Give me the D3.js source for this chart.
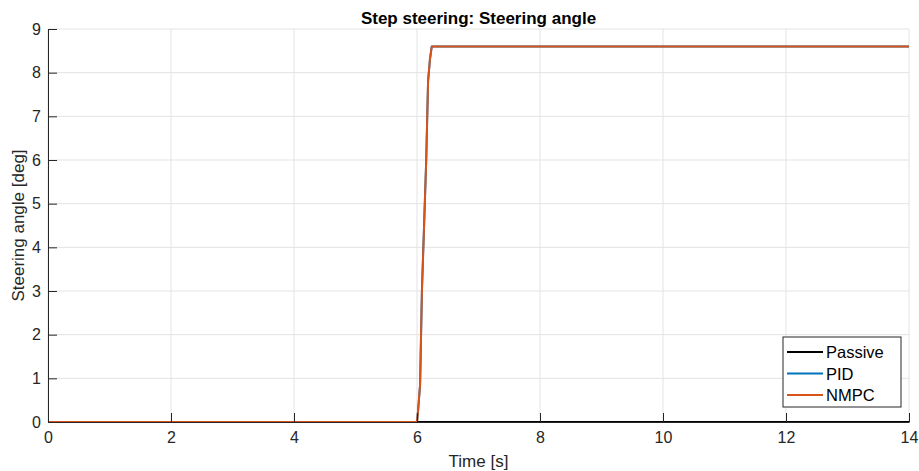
<!DOCTYPE html>
<html>
<head>
<meta charset="utf-8">
<script src="https://cdn.jsdelivr.net/npm/d3@7"></script>
<style>
  html, body { margin: 0; padding: 0; background: #fff; }
  svg { display: block; font-family: "Liberation Sans", Arial, sans-serif; }
</style>
</head>
<body>
<svg id="chart" width="919" height="471"></svg>
<script>
// Time samples [s] and steering angle [deg] for each controller
const timePassive = [0, 14];
const anglePassive = [0, 0];

const timePID = [0, 6.0, 6.02, 6.05, 6.08, 6.15, 6.18, 6.21, 6.24, 14];
const anglePID = [0, 0, 0.3, 0.85, 3.0, 6.0, 7.8, 8.3, 8.6, 8.6];

const timeNMPC = [0, 6.0, 6.02, 6.05, 6.08, 6.15, 6.18, 6.21, 6.24, 14];
const angleNMPC = [0, 0, 0.3, 0.85, 3.0, 6.0, 7.8, 8.3, 8.6, 8.6];

const xTicks = [0, 2, 4, 6, 8, 10, 12, 14];
const yTicks = [0, 1, 2, 3, 4, 5, 6, 7, 8, 9];

const seriesNames = ["Passive", "PID", "NMPC"];
const seriesColors = ["#000000", "#0072BD", "#D95319"];

const margin = { left: 48, right: 10, top: 29, bottom: 49 };
const W = 919, H = 471;

const svg = d3.select("#chart");
const x = d3.scaleLinear().domain([0, 14]).range([margin.left, W - margin.right]);
const y = d3.scaleLinear().domain([0, 9]).range([H - margin.bottom, margin.top]);

const axisColor = "#262626";
const gridColor = "#e3e3e3";

// grid
svg.append("g").selectAll("line").data(xTicks).join("line")
  .attr("x1", d => x(d)).attr("x2", d => x(d))
  .attr("y1", y(0)).attr("y2", y(9))
  .attr("stroke", gridColor).attr("stroke-width", 1);
svg.append("g").selectAll("line").data(yTicks).join("line")
  .attr("x1", x(0)).attr("x2", x(14))
  .attr("y1", d => y(d)).attr("y2", d => y(d))
  .attr("stroke", gridColor).attr("stroke-width", 1);

// data lines
const series = [
  { t: timePassive, v: anglePassive },
  { t: timePID, v: anglePID },
  { t: timeNMPC, v: angleNMPC }
];
const line = d3.line().x(d => x(d[0])).y(d => y(d[1]));
series.forEach((s, i) => {
  svg.append("path")
    .datum(s.t.map((t, k) => [t, s.v[k]]))
    .attr("d", line)
    .attr("fill", "none")
    .attr("stroke", seriesColors[i])
    .attr("stroke-width", 2)
    .attr("stroke-linejoin", "round");
});

// axes (ticks pointing inward)
const xAxis = svg.append("g")
  .attr("transform", `translate(0,${y(0)})`)
  .call(d3.axisBottom(x).tickValues(xTicks).tickFormat(d3.format("d")).tickSizeInner(-9).tickSizeOuter(0).tickPadding(10));
const yAxis = svg.append("g")
  .attr("transform", `translate(${x(0)},0)`)
  .call(d3.axisLeft(y).tickValues(yTicks).tickFormat(d3.format("d")).tickSizeInner(-9).tickSizeOuter(0).tickPadding(7));

[xAxis, yAxis].forEach(g => {
  g.select(".domain").attr("stroke", axisColor).attr("stroke-width", 1);
  g.selectAll(".tick line").attr("stroke", axisColor);
  g.selectAll(".tick text").attr("fill", axisColor).attr("font-size", 16)
    .attr("font-family", "Liberation Sans, Arial, sans-serif");
});

// title and axis labels
svg.append("text")
  .attr("x", (x(0) + x(14)) / 2).attr("y", 24)
  .attr("text-anchor", "middle")
  .attr("font-size", 17).attr("font-weight", "bold").attr("fill", "#000")
  .text("Step steering: Steering angle");

svg.append("text")
  .attr("x", (x(0) + x(14)) / 2).attr("y", 467)
  .attr("text-anchor", "middle")
  .attr("font-size", 17).attr("fill", axisColor)
  .text("Time [s]");

svg.append("text")
  .attr("transform", `translate(24,${(y(0) + y(9)) / 2}) rotate(-90)`)
  .attr("text-anchor", "middle")
  .attr("font-size", 17).attr("fill", axisColor)
  .text("Steering angle [deg]");

// legend
const lg = svg.append("g").attr("transform", "translate(783,337)");
lg.append("rect").attr("width", 118).attr("height", 70)
  .attr("fill", "#fff").attr("stroke", axisColor).attr("stroke-width", 1);
seriesNames.forEach((name, i) => {
  const cy = 15 + i * 21.5;
  lg.append("line").attr("x1", 4).attr("x2", 40).attr("y1", cy).attr("y2", cy)
    .attr("stroke", seriesColors[i]).attr("stroke-width", 2);
  lg.append("text").attr("x", 43).attr("y", cy + 6)
    .attr("font-size", 16.5).attr("fill", "#000").text(name);
});
</script>
</body>
</html>
